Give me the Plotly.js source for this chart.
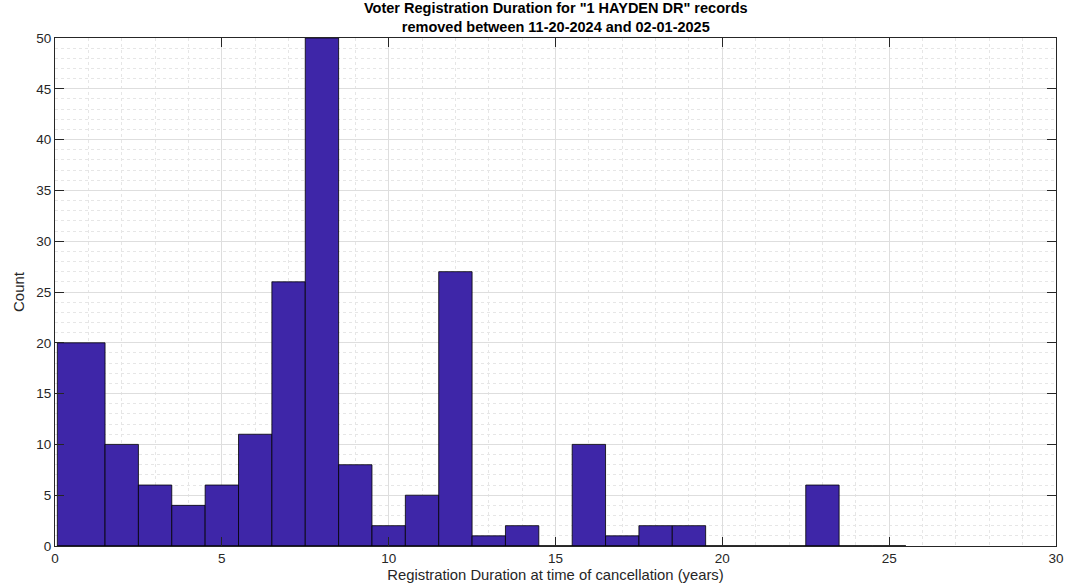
<!DOCTYPE html>
<html>
<head>
<meta charset="utf-8">
<script src="https://cdn.plot.ly/plotly-3.0.1.min.js"></script>
<style>html,body{margin:0;padding:0;background:#fff;}#chart{width:1066px;height:586px;}</style>
</head>
<body>
<div id="chart"></div>
<script>
// Histogram bin edges (years) and counts
const binEdges = [0.07, 1.5, 2.5, 3.5, 4.5, 5.5, 6.5, 7.5, 8.5, 9.5, 10.5, 11.5, 12.5, 13.5, 14.5, 15.5, 16.5, 17.5, 18.5, 19.5, 20.5, 21.5, 22.5, 23.5, 24.5, 25.5];
const counts   = [20, 10, 6, 4, 6, 11, 26, 50, 8, 2, 5, 27, 1, 2, 0, 10, 1, 2, 2, 0, 0, 0, 6, 0, 0];
const xTicks = [0, 5, 10, 15, 20, 25, 30];
const yTicks = [0, 5, 10, 15, 20, 25, 30, 35, 40, 45, 50];
const titleText = 'Voter Registration Duration for "1 HAYDEN DR" records<br>removed between 11-20-2024 and 02-01-2025';

const centers = counts.map((c, i) => (binEdges[i] + binEdges[i + 1]) / 2);
const widths  = counts.map((c, i) => binEdges[i + 1] - binEdges[i]);

const axisColor = '#262626';
const fam = 'Liberation Sans, Arial, sans-serif';
const font = {family: fam, size: 13.5, color: axisColor};

const traces = [
  {
    type: 'scatter', mode: 'lines',
    x: [binEdges[0], binEdges[binEdges.length - 1]], y: [0, 0],
    line: {color: '#000', width: 1}, hoverinfo: 'skip', showlegend: false, cliponaxis: false
  },
  {
    type: 'bar', x: centers, y: counts, width: widths,
    marker: {color: '#3e26a8', line: {color: '#000', width: 0.8}},
    showlegend: false
  }
];

const commonAxis = {
  showline: true, linecolor: axisColor, linewidth: 1, mirror: 'ticks',
  ticks: 'inside', ticklen: 9, tickcolor: axisColor, tickwidth: 1,
  showgrid: true, gridcolor: '#dedede', gridwidth: 1,
  zeroline: false, tickfont: font,
  minor: {showgrid: true, dtick: 1, gridcolor: '#e6e6e6', griddash: 'dot', gridwidth: 1, ticks: ''}
};

const layout = {
  width: 1066, height: 586,
  margin: {l: 55, r: 10, t: 38, b: 40},
  paper_bgcolor: '#fff', plot_bgcolor: '#fff',
  bargap: 0,
  font: font,
  annotations: [{
    text: '<b>' + titleText + '</b>',
    xref: 'paper', yref: 'paper', x: 0.5, y: 1, xanchor: 'center', yanchor: 'bottom',
    yshift: 1, showarrow: false, align: 'center',
    font: {family: fam, size: 14.5, color: '#000'}
  }],
  xaxis: Object.assign({}, commonAxis, {
    range: [0, 30], tickvals: xTicks, ticktext: xTicks.map(String),
    title: {text: 'Registration Duration at time of cancellation (years)', font: {family: fam, size: 14.8, color: axisColor}, standoff: 4}
  }),
  yaxis: Object.assign({}, commonAxis, {
    range: [0, 50], tickvals: yTicks, ticktext: yTicks.map(String),
    title: {text: 'Count', font: {family: fam, size: 15, color: axisColor}, standoff: 8}
  })
};

Plotly.newPlot('chart', traces, layout, {displayModeBar: false, staticPlot: true});
</script>
</body>
</html>
